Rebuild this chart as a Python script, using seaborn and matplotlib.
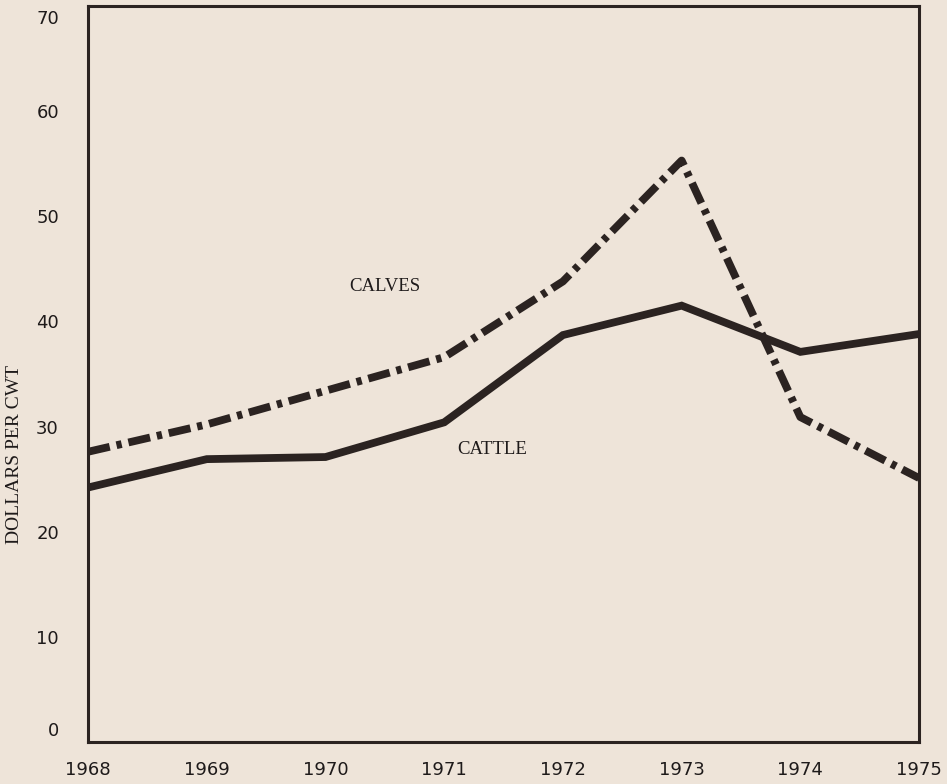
import seaborn as sns
import pandas as pd
import matplotlib.pyplot as plt
import matplotlib.transforms as mtrans

years = [1968, 1969, 1970, 1971, 1972, 1973, 1974, 1975]
cattle = [24.2, 26.9, 27.1, 30.4, 38.7, 41.5, 37.1, 38.8]
calves = [27.6, 30.2, 33.4, 36.6, 43.8, 55.3, 30.9, 25.1]
y_ticks = [0, 10, 20, 30, 40, 50, 60, 70]

paper = "#eee4d9"
ink = "#2b2321"

sns.set_theme(style="white")
plt.rcParams["font.family"] = ["DejaVu Sans"]
plt.rcParams["lines.scale_dashes"] = False

df = pd.DataFrame({
    "YEAR": years * 2,
    "PRICE": cattle + calves,
    "SERIES": ["CATTLE"] * len(years) + ["CALVES"] * len(years),
})

fig = plt.figure(figsize=(9.47, 7.84), dpi=100, facecolor=paper)
ax = fig.add_axes([0.093, 0.0536, 0.8775, 0.9388])
ax.set_facecolor(paper)

sns.lineplot(
    data=df, x="YEAR", y="PRICE", hue="SERIES", style="SERIES",
    palette={"CATTLE": ink, "CALVES": ink},
    dashes={"CATTLE": "", "CALVES": (16, 5, 3.8, 5)},
    linewidth=5.6, legend=False, ax=ax,
)
for line in ax.get_lines():
    line.set_dash_capstyle("butt")
    line.set_solid_joinstyle("miter")

ax.set_xlim(1968, 1975)
ax.set_ylim(0, 70)
ax.set_xticks(years)
ax.set_yticks(y_ticks)
ax.set_xlabel("")
ax.set_ylabel("")

for s in ax.spines.values():
    s.set_visible(True)
    s.set_color(ink)
    s.set_linewidth(2.2)

ax.tick_params(axis="both", direction="inout", length=4, width=0.8,
               colors=ink, labelsize=13, labelcolor="#1e1a1a")
ax.tick_params(axis="y", pad=19)
ax.tick_params(axis="x", pad=12)

# nudge the end labels inward like the printed chart
labels = ax.get_yticklabels()
labels[0].set_transform(labels[0].get_transform()
                        + mtrans.ScaledTranslation(0, 9 / 72, fig.dpi_scale_trans))
labels[-1].set_transform(labels[-1].get_transform()
                         + mtrans.ScaledTranslation(0, -8 / 72, fig.dpi_scale_trans))

ax.text(1970.5, 43.3, "CALVES", family="Liberation Serif", fontsize=13.5,
        color="#1e1a1a", ha="center", va="center")
ax.text(1971.4, 27.8, "CATTLE", family="Liberation Serif", fontsize=13.5,
        color="#1e1a1a", ha="center", va="center")

fig.text(15 / 947, 1 - 455 / 784, "DOLLARS PER CWT", family="Liberation Serif",
         fontsize=14, color="#1e1a1a", rotation=90, ha="center", va="center")

fig.savefig("out.png", dpi=100, facecolor=paper)
